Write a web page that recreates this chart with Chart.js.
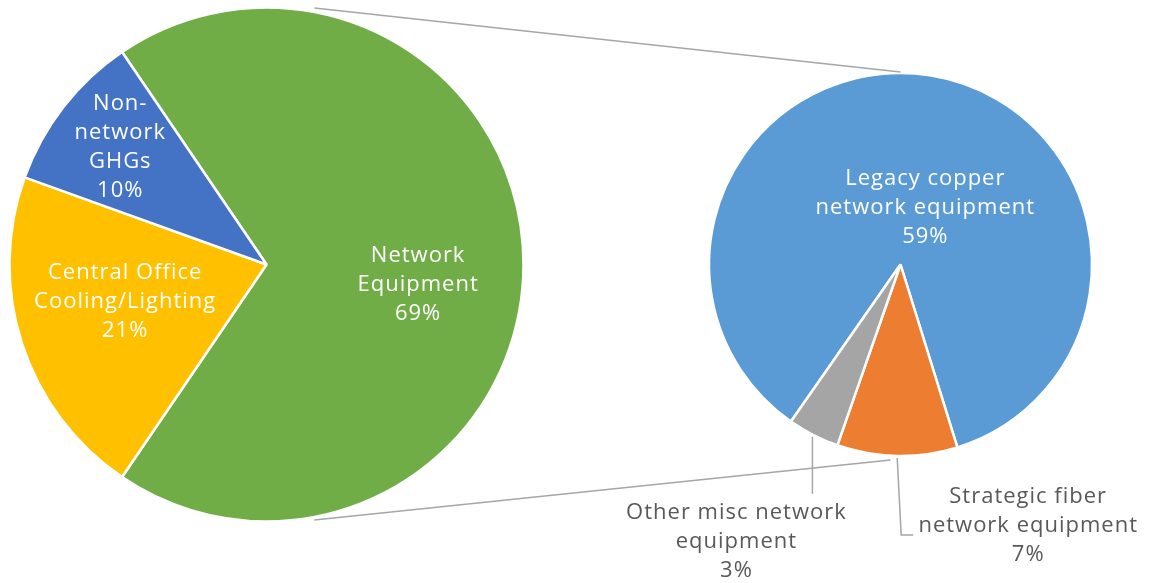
<!DOCTYPE html>
<html>
<head>
<meta charset="utf-8">
<script src="https://cdn.jsdelivr.net/npm/chart.js@4.4.0/dist/chart.umd.min.js"></script>
<style>
  html, body { margin: 0; padding: 0; background: #fff; width: 1155px; height: 583px; overflow: hidden; }
  body { position: relative; }
  canvas { position: absolute; }
</style>
</head>
<body>
<canvas id="mainPie" width="533" height="529" style="left:0px;top:0px"></canvas>
<canvas id="subPie" width="401" height="401" style="left:700px;top:64px"></canvas>
<canvas id="overlay" width="1155" height="583" style="left:0px;top:0px;pointer-events:none"></canvas>
<script>
// main pie
const mainLabels = [['Network', 'Equipment'], ['Central Office', 'Cooling/Lighting'], ['Non-', 'network', 'GHGs']];
const mainValues = [69, 21, 10];
const mainColors = ['#70AD47', '#FFC000', '#4472C4'];

// breakdown of network equipment
const subLabels = [['Legacy copper', 'network equipment'], ['Strategic fiber', 'network equipment'], ['Other misc network', 'equipment']];
const subValues = [59, 7, 3];
const subColors = ['#5B9BD5', '#ED7D31', '#A5A5A5'];

const FONT = '22px "Open Sans"';
const LINE_H = 29;
const total = mainValues.reduce((a, b) => a + b, 0);

function pieConfig(labels, values, colors, radius, rotation) {
  return {
    type: 'pie',
    data: {
      labels: labels.map(l => l.join(' ')),
      datasets: [{
        data: values,
        backgroundColor: colors,
        borderColor: '#ffffff',
        borderWidth: 2.5,
        radius: radius
      }]
    },
    options: {
      responsive: false,
      animation: false,
      events: [],
      rotation: rotation,
      layout: { padding: 0 },
      plugins: { legend: { display: false }, tooltip: { enabled: false } }
    }
  };
}

var mainChart = new Chart(document.getElementById('mainPie'), pieConfig(mainLabels, mainValues, mainColors, 257, -34.2));
var subChart = new Chart(document.getElementById('subPie'), pieConfig(subLabels, subValues, subColors, 191.5, 214.9));

function arcInfo(chart, i) {
  var a = chart.getDatasetMeta(0).data[i];
  var c = chart.canvas;
  return { x: a.x + c.offsetLeft, y: a.y + c.offsetTop, r: a.outerRadius, mid: (a.startAngle + a.endAngle) / 2 };
}

function textBlock(ctx, lines, x, y, color) {
  ctx.fillStyle = color;
  lines.forEach((t, k) => {
    ctx.fillText(t, x, y + (k - (lines.length - 1) / 2) * LINE_H);
  });
}

function line(ctx, pts) {
  ctx.beginPath();
  ctx.moveTo(pts[0][0], pts[0][1]);
  for (var k = 1; k < pts.length; k++) ctx.lineTo(pts[k][0], pts[k][1]);
  ctx.stroke();
}

const ov = document.getElementById('overlay').getContext('2d');
ov.font = FONT;
ov.letterSpacing = '1px';
ov.textAlign = 'center';
ov.textBaseline = 'middle';
ov.strokeStyle = '#A6A6A6';
ov.lineWidth = 1.5;

// series lines between the two pies
var m0 = arcInfo(mainChart, 0);
var s0 = arcInfo(subChart, 0);
var tilt = 10.6 * Math.PI / 180;
line(ov, [[m0.x + (m0.r + 4) * Math.sin(tilt), m0.y - (m0.r + 4) * Math.cos(tilt)], [s0.x, s0.y - s0.r - 1]]);
line(ov, [[m0.x + (m0.r + 3) * Math.sin(tilt), m0.y + (m0.r + 3) * Math.cos(tilt)], [s0.x - 10, s0.y + s0.r + 4]]);

// labels inside the main pie: [fraction of radius, dx, dy]
const mainLabelPos = [[0.59, 0, 20], [0.57, -2, -8], [0.73, 2, -2]];
mainValues.forEach((v, i) => {
  var a = arcInfo(mainChart, i);
  var p = mainLabelPos[i];
  var x = a.x + p[0] * a.r * Math.cos(a.mid) + p[1];
  var y = a.y + p[0] * a.r * Math.sin(a.mid) + p[2];
  textBlock(ov, mainLabels[i].concat([Math.round(v / total * 100) + '%']), x, y, '#ffffff');
});

// legacy copper, inside
var a = arcInfo(subChart, 0);
textBlock(ov, subLabels[0].concat([Math.round(subValues[0] / total * 100) + '%']),
  a.x + 0.3 * a.r * Math.cos(a.mid) + 16, a.y + 0.3 * a.r * Math.sin(a.mid), '#ffffff');

// strategic fiber, outside with elbow leader
a = arcInfo(subChart, 1);
var ex = a.x + a.r * Math.cos(a.mid), ey = a.y + a.r * Math.sin(a.mid) + 2;
line(ov, [[ex, ey], [ex + 4, ey + 77], [ex + 16, ey + 77]]);
textBlock(ov, subLabels[1].concat([Math.round(subValues[1] / total * 100) + '%']), ex + 131, ey + 68, '#595959');

// other misc, outside with vertical leader
a = arcInfo(subChart, 2);
ex = a.x + (a.r + 2) * Math.cos(a.mid); ey = a.y + (a.r + 2) * Math.sin(a.mid);
line(ov, [[ex, ey], [ex, ey + 57]]);
textBlock(ov, subLabels[2].concat([Math.round(subValues[2] / total * 100) + '%']), ex - 76, ey + 105, '#595959');
</script>
</body>
</html>
